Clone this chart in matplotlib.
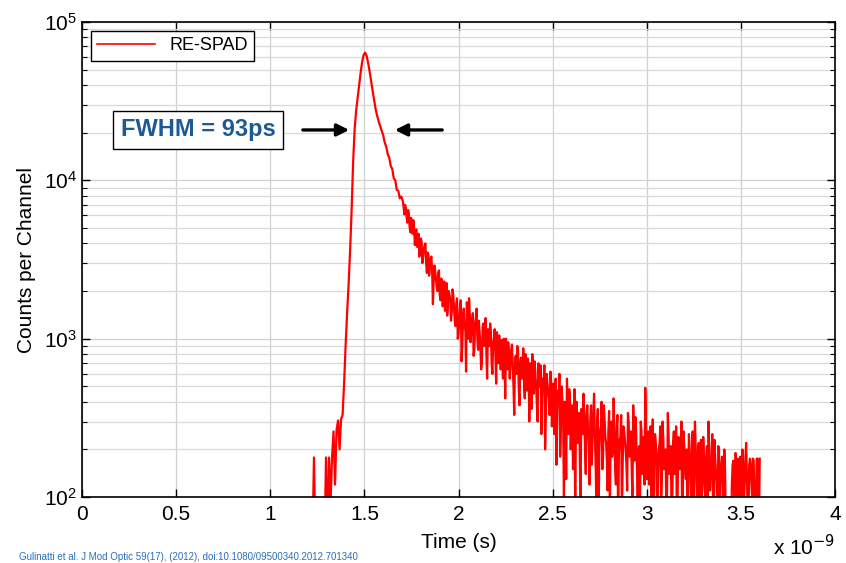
import numpy as np
import matplotlib
matplotlib.use("Agg")
import matplotlib.pyplot as plt

plt.rcParams['font.family'] = ['Liberation Sans', 'DejaVu Sans']

# histogram channels, 8 ps wide, starting at 1.224 ns
t_start = 1.224
channel_ns = 0.008

counts = [
    # rising edge 1.224 - 1.448
    50, 178, 50, 50, 50, 50, 50, 50, 50, 178,
    50, 178, 90, 178, 260, 120, 265, 305, 200, 310,
    330, 520, 900, 1450, 2200, 3600, 6500, 13000, 21000,
    # peak 1.456 - 1.584
    27500, 33000, 40000, 48000, 56000, 62000, 64000, 61000, 55000, 48500,
    42000, 36500, 32000, 28000, 25500, 23500, 22000,
    # fast decay 1.592 - 1.696
    20500, 19200, 17300, 16300, 14600, 13900, 12300, 11800, 10300, 10000,
    8700, 8600, 7700, 7900,
    # 1.704 - 2.000
    7400, 6100, 6700, 5400, 6200, 4700, 5300, 5600, 3900, 4900,
    4400, 3300, 4300, 3000, 3700, 4000, 2600, 3400, 2900, 3300,
    1650, 2900, 2400, 2000, 2700, 1750, 2350, 2200, 1500, 2250,
    1700, 1900, 1300, 2050, 1550, 1200, 1800, 1100,
    # 2.008 - 2.496
    1600, 720, 1400, 1150, 620, 1500, 1800, 950, 1300, 780,
    1250, 1550, 850, 1100, 640, 1200, 900, 1350, 560, 1000,
    1250, 700, 950, 1150, 520, 880, 1050, 640, 800, 1000,
    420, 760, 950, 560, 860, 650, 330, 780, 900, 480,
    700, 560, 870, 420, 620, 750, 300, 580, 800, 450,
    620, 380, 700, 500, 250, 560, 680, 330, 520, 420,
    620, 280,
    # 2.504 - 3.000
    520, 350, 160, 470, 600, 280, 400, 90, 330, 560,
    250, 420, 300, 150, 480, 380, 220, 340, 80, 300,
    450, 200, 330, 260, 120, 380, 240, 450, 170, 290,
    70, 260, 400, 180, 310, 220, 110, 350, 250, 180,
    420, 150, 270, 60, 230, 330, 160, 260, 200, 110,
    300, 220, 150, 380, 170, 250, 90, 210, 300, 140,
    240, 490, 130,
    # 3.008 - 3.600
    260, 180, 90, 310, 150, 220, 60, 200, 280, 120,
    230, 170, 80, 340, 140, 210, 100, 260, 170, 60,
    240, 150, 300, 110, 200, 130, 70, 250, 160, 220,
    90, 300, 140, 190, 80, 230, 120, 180, 60, 210,
    300, 110, 170, 90, 230, 140, 70, 200, 120, 180,
    90, 150, 60, 50, 50, 60, 160, 100, 190, 70,
    150, 180, 90, 160, 120, 220, 80, 160, 160, 100,
    170, 60, 175, 90, 175,
]

# finer channels in the tail, offset by half a channel (1.708 ns onward)
mid_start = 1.708
counts_mid = [
    # 1.708 - 1.996
    6800, 7000, 5900, 6500, 5100, 5800, 4600, 5000, 4700, 3800,
    4600, 3600, 4100, 3300, 3900, 3000, 3500, 2500, 3200, 2600,
    2300, 2700, 2100, 2600, 1900, 2400, 1600, 2300, 1900, 1400,
    2000, 1750, 1450, 1900, 1300, 1650, 1000,
    # 2.004 - 2.492
    1300, 1750, 900, 1550, 1250, 1700, 1000, 1400, 1150, 1450,
    850, 1350, 1000, 1300, 920, 700, 1250, 1050, 800, 1150,
    900, 1100, 600, 1000, 800, 1100, 700, 900, 980, 560,
    850, 1000, 640, 800, 700, 920, 500, 750, 600, 850,
    380, 760, 650, 520, 800, 470, 650, 700, 360, 620,
    720, 500, 300, 600, 680, 420, 520, 200, 600, 460,
    330, 540,
    # 2.500 - 2.996
    420, 250, 560, 330, 420, 180, 500, 300, 400, 130,
    360, 480, 200, 380, 280, 70, 400, 300, 190, 360,
    250, 330, 140, 380, 220, 300, 160, 330, 250, 90,
    360, 200, 280, 150, 380, 240, 170, 260, 80, 300,
    210, 260, 120, 330, 190, 240, 70, 280, 230, 160,
    340, 180, 260, 100, 240, 320, 150, 200, 80, 260,
    190, 120, 280,
    # 3.004 - 3.596
    200, 120, 280, 170, 60, 250, 180, 130, 220, 90,
    300, 150, 200, 110, 240, 170, 60, 220, 140, 280,
    100, 190, 160, 70, 260, 150, 200, 110, 180, 90,
    260, 130, 200, 60, 220, 160, 100, 240, 130, 180,
    80, 200, 140, 250, 70, 170, 120, 210, 60, 160,
    130, 200, 70, 50, 50, 50, 120, 170, 80, 140,
    175, 60, 150, 200, 90, 175, 130, 60, 175, 120,
    175, 100, 80, 175, 60,
]

times = t_start + channel_ns * np.arange(len(counts))
times_mid = mid_start + channel_ns * np.arange(len(counts_mid))
all_t = np.concatenate([times, times_mid])
all_c = np.concatenate([counts, counts_mid])
order = np.argsort(all_t)
all_t = all_t[order]
all_c = all_c[order]

fig = plt.figure(figsize=(8.46, 5.63), dpi=100)
ax = fig.add_axes([0.097, 0.117, 0.890, 0.844])

ax.semilogy(all_t, all_c, color='#ff0000', linewidth=1.6, label='RE-SPAD')

ax.set_xlim(0, 4)
ax.set_ylim(1e2, 1e5)
ax.set_xticks([0, 0.5, 1, 1.5, 2, 2.5, 3, 3.5, 4])
ax.set_xticklabels(['0', '0.5', '1', '1.5', '2', '2.5', '3', '3.5', '4'])

ax.grid(True, which='major', color='#d0d0d0', linewidth=0.9)
ax.grid(True, which='minor', axis='y', color='#d8d8d8', linewidth=0.9)
ax.set_axisbelow(True)
ax.tick_params(which='both', direction='in', top=True, right=True, labelsize=15)
ax.tick_params(which='major', length=6, width=1.0)
ax.tick_params(which='minor', length=3.5, width=0.8)
ax.tick_params(axis='x', pad=6)
for s in ax.spines.values():
    s.set_linewidth(1.2)

ax.set_xlabel('Time (s)', fontsize=15, labelpad=6)
ax.set_ylabel('Counts per Channel', fontsize=15, labelpad=6)
fig.text(0.987, 0.006, r'x 10$^{-9}$', fontsize=15, ha='right', va='bottom')

leg = ax.legend(loc='upper left', fontsize=13, fancybox=False, framealpha=1,
                edgecolor='black', handlelength=3.2, borderpad=0.35,
                borderaxespad=0.5)
leg.get_frame().set_linewidth(1.0)
leg.get_lines()[0].set_linewidth(1.2)

ax.text(0.616, 20800, 'FWHM = 93ps', fontsize=17, fontweight='bold',
        color='#1b5a96', ha='center', va='center',
        bbox=dict(boxstyle='square,pad=0.32', fc='white', ec='black', lw=1.0))
ax.annotate('', xy=(1.434, 20800), xytext=(1.158, 20800),
            arrowprops=dict(arrowstyle='-|>', color='black', lw=2.4,
                            mutation_scale=18))
ax.annotate('', xy=(1.647, 20800), xytext=(1.928, 20800),
            arrowprops=dict(arrowstyle='-|>', color='black', lw=2.4,
                            mutation_scale=18))

fig.text(0.022, 0.002, 'Gulinatti et al. J Mod Optic 59(17), (2012), doi:10.1080/09500340.2012.701340',
         fontsize=7, color='#2a6ebb', ha='left', va='bottom')

fig.savefig('out.png', dpi=100)
